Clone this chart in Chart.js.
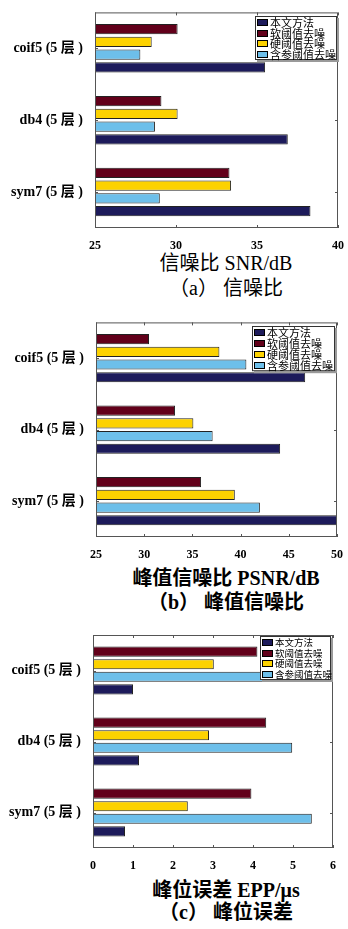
<!DOCTYPE html>
<html>
<head>
<meta charset="utf-8">
<script src="https://cdn.jsdelivr.net/npm/chart.js@4/dist/chart.umd.min.js"></script>
<style>
  html, body { margin: 0; padding: 0; background: #fff; }
  #page { position: relative; width: 348px; height: 929px; overflow: hidden; }
  canvas { position: absolute; left: 0; }
  .cap {
    position: absolute; left: 106px; width: 240px; text-align: center;
    font: 20px/24px "Liberation Serif", "Noto Sans CJK SC", serif; color: #000;
    white-space: nowrap;
  }
  .b { font-weight: bold; }
</style>
</head>
<body>
<div id="page">
  <canvas id="snr" width="348" height="250" style="top:0"></canvas>
  <div class="cap" style="top:251px">信噪比 SNR/dB</div>
  <div class="cap" style="top:276px">（a） 信噪比</div>

  <canvas id="psnr" width="348" height="250" style="top:310px"></canvas>
  <div class="cap b" style="top:566px">峰值信噪比 PSNR/dB</div>
  <div class="cap b" style="top:590px">（b） 峰值信噪比</div>

  <canvas id="epp" width="348" height="250" style="top:620px"></canvas>
  <div class="cap b" style="top:878px">峰位误差 EPP/μs</div>
  <div class="cap b" style="top:900px">（c） 峰位误差</div>
</div>
<script>
const categories = ['coif5 (5 层 )', 'db4 (5 层 )', 'sym7 (5 层 )'];
const methods = ['本文方法', '软阈值去噪', '硬阈值去噪', '含参阈值去噪'];
const colors = ['#1d1b5b', '#62001a', '#fcd200', '#6dbfea'];

// SNR (dB), one value per wavelet
const snrOurs = [35.5, 36.9, 38.3];
const snrSoft = [30.1, 29.1, 33.3];
const snrHard = [28.5, 30.1, 33.4];
const snrParam = [27.8, 28.7, 29.0];

// PSNR (dB)
const psnrOurs = [46.7, 44.1, 50.0];
const psnrSoft = [30.5, 33.2, 35.9];
const psnrHard = [37.8, 35.1, 39.4];
const psnrParam = [40.6, 37.1, 42.0];

// peak position error (us)
const eppOurs = [1.0, 1.15, 0.8];
const eppSoft = [4.11, 4.33, 3.96];
const eppHard = [3.02, 2.9, 2.37];
const eppParam = [4.64, 4.98, 5.47];

// bars are stacked top-down: soft, hard, param, ours
const barOrder = [1, 2, 3, 0];

const serif = '"Liberation Serif", "Noto Sans CJK SC", serif';

// plot frame with short inward ticks
const framePlugin = {
  id: 'frame',
  afterDatasetsDraw(chart) {
    const { ctx, chartArea: a, scales: { x, y } } = chart;
    ctx.save();
    ctx.strokeStyle = '#555';
    ctx.lineWidth = 1;
    ctx.strokeRect(a.left + 0.5, a.top + 0.5, a.width - 1, a.height - 1);
    ctx.beginPath();
    x.ticks.forEach((t, i) => {
      const px = Math.round(x.getPixelForTick(i)) + 0.5;
      ctx.moveTo(px, a.bottom); ctx.lineTo(px, a.bottom - 3);
      ctx.moveTo(px, a.top); ctx.lineTo(px, a.top + 3);
    });
    y.ticks.forEach((t, i) => {
      const py = Math.round(y.getPixelForTick(i)) + 0.5;
      ctx.moveTo(a.left, py); ctx.lineTo(a.left + 3, py);
      ctx.moveTo(a.right, py); ctx.lineTo(a.right - 3, py);
    });
    ctx.stroke();
    ctx.restore();
  }
};

// boxed legend inside the plot, top right
const boxLegend = {
  id: 'boxLegend',
  afterDraw(chart, args, opts) {
    const { ctx, chartArea: a } = chart;
    const rowH = opts.rowH;
    const w = opts.width, h = rowH * 4 + 2;
    const x0 = Math.round(a.right - opts.right - w), y0 = Math.round(a.top + opts.top);
    ctx.save();
    ctx.fillStyle = '#9a9a9a';
    ctx.fillRect(x0 + 2, y0 + 2, w, h);
    ctx.fillStyle = '#fff';
    ctx.fillRect(x0, y0, w, h);
    ctx.strokeStyle = '#333';
    ctx.lineWidth = 1;
    ctx.strokeRect(x0 + 0.5, y0 + 0.5, w - 1, h - 1);
    ctx.font = opts.size + 'px "Noto Sans CJK SC"';
    ctx.textBaseline = 'middle';
    methods.forEach((m, k) => {
      const ds = chart.data.datasets.find(d => d.label === m);
      const cy = Math.round(y0 + 1 + rowH * (k + 0.5));
      ctx.fillStyle = ds.backgroundColor;
      ctx.fillRect(x0 + 2, cy - 3, 11, 7);
      ctx.strokeStyle = '#000';
      ctx.strokeRect(x0 + 2.5, cy - 2.5, 10, 6);
      ctx.fillStyle = '#000';
      ctx.fillText(m, x0 + 15, cy + 0.5);
    });
    ctx.restore();
  }
};

function makeChart(id, series, xr, box) {
  const datasets = barOrder.map(i => ({
    label: methods[i],
    data: series[i],
    backgroundColor: colors[i],
    borderColor: '#222',
    borderWidth: 1,
    borderSkipped: false,
    categoryPercentage: 0.71,
    barPercentage: 0.8
  }));
  return new Chart(document.getElementById(id), {
    type: 'bar',
    data: { labels: categories, datasets: datasets },
    plugins: [framePlugin, boxLegend],
    options: {
      indexAxis: 'y',
      responsive: false,
      animation: false,
      layout: { padding: { top: box.top, right: box.right, left: 0, bottom: 0 } },
      plugins: {
        legend: { display: false },
        tooltip: { enabled: false },
        boxLegend: box.legend
      },
      scales: {
        x: {
          type: 'linear',
          min: xr.min, max: xr.max,
          afterFit: s => { s.height = box.xh; },
          grid: { display: false },
          border: { display: false },
          ticks: {
            stepSize: xr.step,
            padding: 3,
            maxRotation: 0,
            color: '#000',
            font: { family: serif, size: 12, weight: 'bold' }
          }
        },
        y: {
          afterFit: s => { s.width = box.yw; },
          grid: { display: false },
          border: { display: false },
          ticks: {
            padding: 4,
            color: '#000',
            font: { family: serif, size: 14, weight: 'bold' }
          }
        }
      }
    }
  });
}

makeChart('snr', [snrOurs, snrSoft, snrHard, snrParam],
  { min: 25, max: 40, step: 5 },
  { top: 9, right: 10, xh: 22, yw: 95, legend: { width: 82, rowH: 10.5, size: 11, right: 1, top: 4 } });

makeChart('psnr', [psnrOurs, psnrSoft, psnrHard, psnrParam],
  { min: 25, max: 50, step: 5 },
  { top: 10, right: 11, xh: 23, yw: 96, legend: { width: 83, rowH: 10.8, size: 11, right: 2, top: 4 } });

makeChart('epp', [eppOurs, eppSoft, eppHard, eppParam],
  { min: 0, max: 6, step: 1 },
  { top: 15, right: 15, xh: 22, yw: 93, legend: { width: 71, rowH: 10.5, size: 9.5, right: 2, top: 1 } });
</script>
</body>
</html>
